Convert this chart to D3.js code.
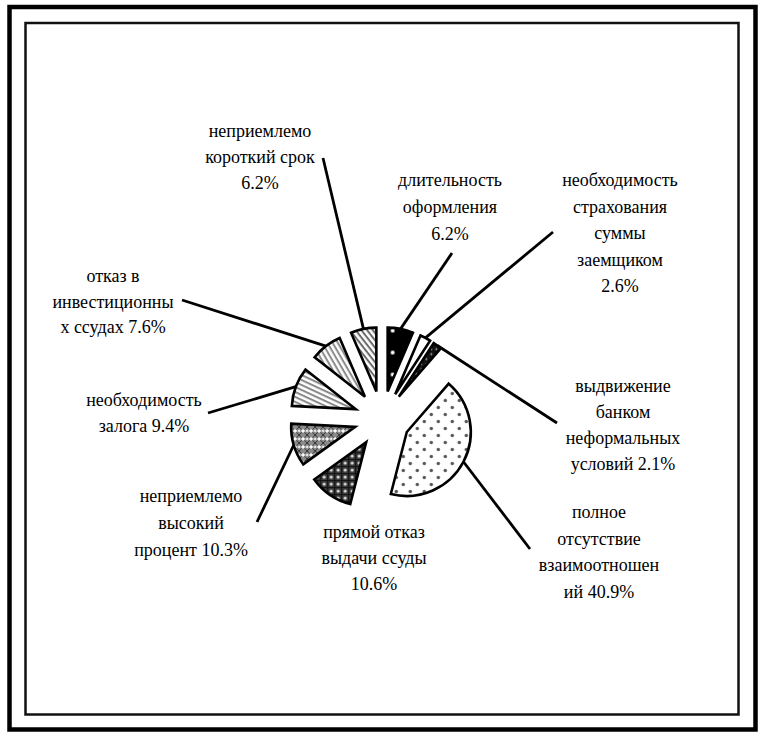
<!DOCTYPE html>
<html>
<head>
<meta charset="utf-8">
<script src="https://cdn.jsdelivr.net/npm/d3@7"></script>
<style>
  body { margin: 0; background: #fff; }
  svg text { font-family: "Liberation Serif", "DejaVu Serif", serif; font-size: 18px; fill: #000; }
</style>
</head>
<body>
<div class="plot"></div>
<script>
// reasons for refusing credit, % of answers (pie goes clockwise from 12 o'clock)
const categories = [
    ['длительность', 'оформления', '{v}'],
    ['необходимость', 'страхования', 'суммы', 'заемщиком', '{v}'],
    ['выдвижение', 'банком', 'неформальных', 'условий {v}'],
    ['полное', 'отсутствие', 'взаимоотношен', 'ий {v}'],
    ['прямой отказ', 'выдачи ссуды', '{v}'],
    ['неприемлемо', 'высокий', 'процент {v}'],
    ['необходимость', 'залога {v}'],
    ['отказ в', 'инвестиционны', 'х ссудах {v}'],
    ['неприемлемо', 'короткий срок', '{v}']
];
const values = [6.2, 2.6, 2.1, 40.9, 10.6, 10.3, 9.4, 7.6, 6.2];

// label placement: text centre, first baseline, line step, leader start (null = no leader)
const labelLayout = [
    { x: 450, y: 186, dy: 27,   lx: 452, ly: 253 },
    { x: 620, y: 186, dy: 26.5, lx: 553, ly: 232 },
    { x: 623, y: 392, dy: 26,   lx: 557, ly: 423 },
    { x: 599, y: 518, dy: 26.5, lx: 530, ly: 549 },
    { x: 374, y: 538, dy: 26,   lx: null, ly: null },
    { x: 191, y: 502, dy: 27,   lx: 257, ly: 522 },
    { x: 144, y: 406, dy: 26,   lx: 208, ly: 413 },
    { x: 113, y: 282, dy: 25.5, lx: 182, ly: 300 },
    { x: 260, y: 137, dy: 26,   lx: 323, ly: 158 }
];
const fills = ['p-black', 'p-white', 'p-darkdot', 'p-dots', 'p-darkcross',
    'p-cross', 'p-stripe1', 'p-stripe2', 'p-stripe3'];

const W = 761, H = 739;
const cx = 382, cy = 419;
const R = 64, explode = 28;

const svg = d3.select('.plot')
    .append('svg')
    .attr('width', W)
    .attr('height', H);

// frames
svg.append('rect')
    .attr('x', 9.5).attr('y', 7)
    .attr('width', 746).attr('height', 722.5)
    .attr('fill', 'none').attr('stroke', '#000').attr('stroke-width', 4.5);
svg.append('rect')
    .attr('x', 25.5).attr('y', 23)
    .attr('width', 713).attr('height', 691.5)
    .attr('fill', 'none').attr('stroke', '#111').attr('stroke-width', 2.5);

// PATTERNS
const defs = svg.append('defs');

const pat = (id, size, bg) => {
    let p = defs.append('pattern')
        .attr('id', id)
        .attr('patternUnits', 'userSpaceOnUse')
        .attr('width', size)
        .attr('height', size);
    p.append('rect').attr('width', size).attr('height', size).attr('fill', bg);
    return p;
}

let p = pat('p-black', 22, '#000');
p.append('circle').attr('cx', 5).attr('cy', 5).attr('r', 2).attr('fill', '#fff');

pat('p-white', 10, '#fff');

p = pat('p-darkdot', 5, '#111');
p.append('circle').attr('cx', 2.5).attr('cy', 2.5).attr('r', 0.9).attr('fill', '#bbb');

p = pat('p-dots', 14, '#fff');
[[3.5, 3.5], [10.5, 10.5]].forEach(c => p.append('circle')
    .attr('cx', c[0]).attr('cy', c[1]).attr('r', 1.7).attr('fill', '#555'));

p = pat('p-darkcross', 7, '#3a3a3a');
p.append('path').attr('d', 'M0,3.5H7M3.5,0V7').attr('stroke', '#111').attr('stroke-width', 1.2);
[[0, 0], [7, 7], [7, 0], [0, 7]].forEach(c => p.append('circle')
    .attr('cx', c[0]).attr('cy', c[1]).attr('r', 1.6).attr('fill', '#ddd'));

p = pat('p-cross', 8, '#8a8a8a');
p.append('path').attr('d', 'M0,0L8,8M8,0L0,8').attr('stroke', '#333').attr('stroke-width', 1);
p.append('circle').attr('cx', 4).attr('cy', 4).attr('r', 1.8).attr('fill', '#fff');
p.append('circle').attr('cx', 0).attr('cy', 4).attr('r', 1.2).attr('fill', '#eee');
p.append('circle').attr('cx', 8).attr('cy', 4).attr('r', 1.2).attr('fill', '#eee');

const stripes = (id, angle, color) => {
    let s = defs.append('pattern')
        .attr('id', id)
        .attr('patternUnits', 'userSpaceOnUse')
        .attr('width', 4.5).attr('height', 4.5)
        .attr('patternTransform', `rotate(${angle})`);
    s.append('rect').attr('width', 4.5).attr('height', 4.5).attr('fill', '#fff');
    s.append('rect').attr('width', 4.5).attr('height', 2).attr('fill', color);
}
stripes('p-stripe1', 25, '#888');
stripes('p-stripe2', 60, '#8c8c8c');
stripes('p-stripe3', 52, '#6a6a6a');

// PIE
const pie = d3.pie().sort(null).value(d => d).startAngle(0).endAngle(2 * Math.PI);
const arcs = pie(values);

const arc = d3.arc().innerRadius(0).outerRadius(R);
const edge = d3.arc().innerRadius(R).outerRadius(R);

const shift = d => {
    const a = (d.startAngle + d.endAngle) / 2;
    return [Math.sin(a) * explode, -Math.cos(a) * explode];
}

const chart = svg.append('g').attr('transform', `translate(${cx}, ${cy})`);

// leader lines, drawn under the slices
chart.selectAll('line.leader')
    .data(arcs.filter((d, i) => labelLayout[i].lx != null))
    .enter()
    .append('line')
    .attr('class', 'leader')
    .attr('x1', d => labelLayout[d.index].lx - cx)
    .attr('y1', d => labelLayout[d.index].ly - cy)
    .attr('x2', d => shift(d)[0] + edge.centroid(d)[0])
    .attr('y2', d => shift(d)[1] + edge.centroid(d)[1])
    .attr('stroke', '#000')
    .attr('stroke-width', 2.8);

chart.selectAll('path.slice')
    .data(arcs)
    .enter()
    .append('path')
    .attr('class', 'slice')
    .attr('d', arc)
    .attr('transform', d => `translate(${shift(d)})`)
    .attr('fill', d => `url(#${fills[d.index]})`)
    .attr('stroke', '#000')
    .attr('stroke-width', 2.6)
    .attr('stroke-linejoin', 'miter');

// labels
const fmt = v => v.toFixed(1) + '%';
categories.forEach((lines, i) => {
    const L = labelLayout[i];
    const t = svg.append('text')
        .attr('text-anchor', 'middle');
    lines.forEach((s, k) => t.append('tspan')
        .attr('x', L.x)
        .attr('y', L.y + k * L.dy)
        .text(s.replace('{v}', fmt(values[i]))));
});
</script>
</body>
</html>
